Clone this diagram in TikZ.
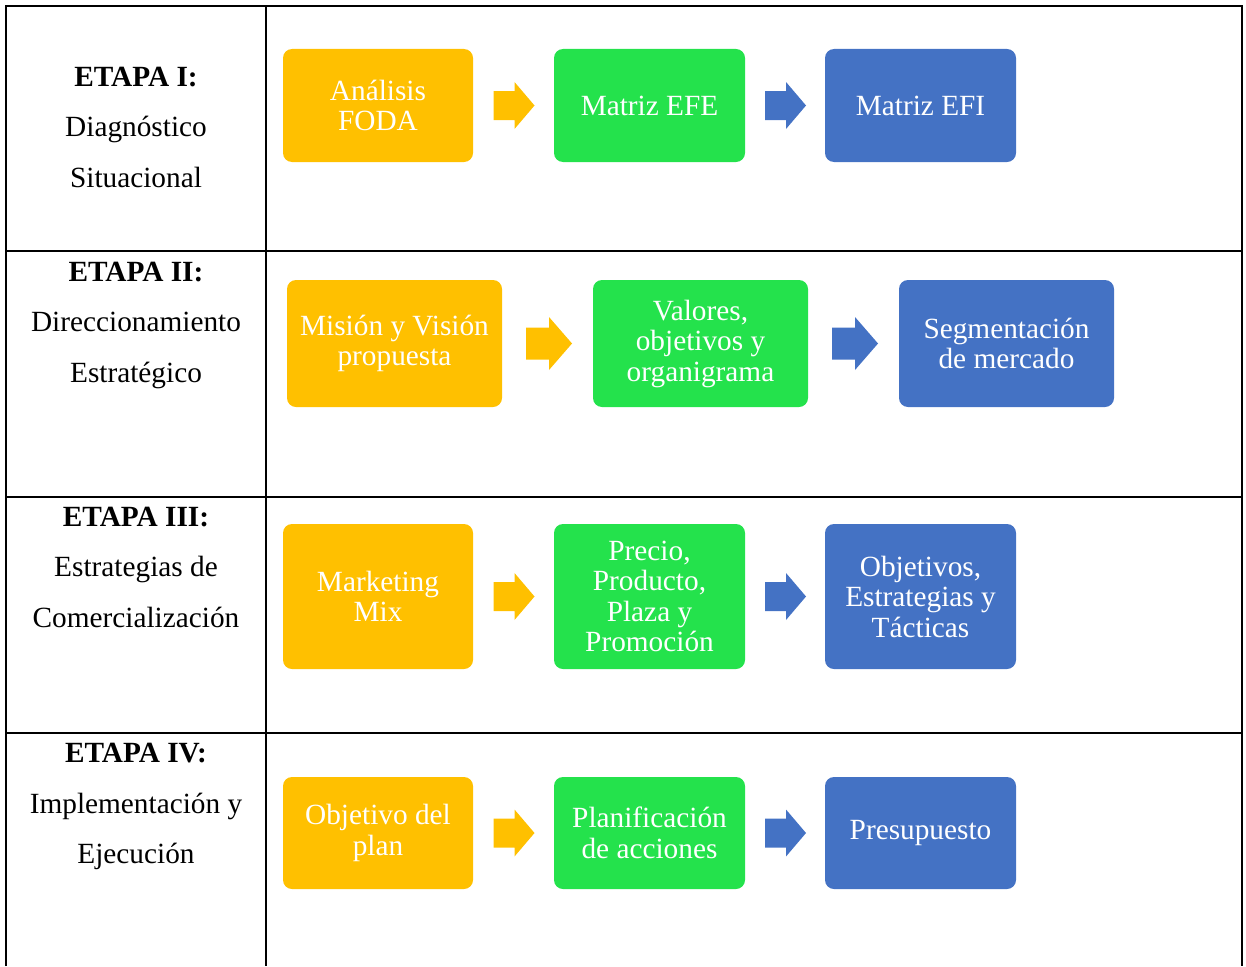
\documentclass[tikz,border=0pt]{standalone}
\usepackage{fontspec}
\setmainfont{Liberation Serif}
\usetikzlibrary{calc}
\definecolor{amber}{RGB}{255,192,0}
\definecolor{lime}{RGB}{36,226,76}
\definecolor{steel}{RGB}{68,114,196}
\tikzset{
  rule/.style={line width=2pt, draw=black},
  stage/.style={align=center, text=black, inner sep=0pt,
    font=\fontsize{29.3}{50.5}\selectfont},
  blk/.style={rounded corners=9pt, fill=#1, text=white, align=center, inner sep=0pt,
    font=\fontsize{29.3}{30.5}\selectfont},
}
% block arrow centred on a coordinate: body from -#3 to #4, tip at #5,
% body half-height #6, head half-height #7
\newcommand{\blockarrow}[7]{%
  \fill[#2, shift={(#1)}] (-#3,-#6) -- (#4,-#6) -- (#4,-#7) -- (#5,0)
    -- (#4,#7) -- (#4,#6) -- (-#3,#6) -- cycle;}
\begin{document}
\begin{tikzpicture}[x=1pt, y=-1pt]
\useasboundingbox (0,0) rectangle (1246,966);

% table frame
\draw[rule] (6,966) -- (6,6) -- (1242,6) -- (1242,966);
\draw[rule] (266,6) -- (266,966);
\draw[rule] (6,251) -- (1242,251);
\draw[rule] (6,497) -- (1242,497);
\draw[rule] (6,733) -- (1242,733);

% stage labels
\node[stage] (s1) at (136,127) {\textbf{ETAPA I:}\\Diagnóstico\\Situacional};
\node[stage] (s2) at (136,325) {\textbf{ETAPA II:}\\Direccionamiento\\Estratégico};
\node[stage] (s3) at (136,567) {\textbf{ETAPA III:}\\Estrategias de\\Comercialización};
\node[stage] (s4) at (136,806.5) {\textbf{ETAPA IV:}\\Implementación y\\Ejecución};

% stage I
\node[blk=amber, minimum width=190, minimum height=113] (a1) at (378,105.5) {Análisis\\FODA};
\node[blk=lime,  minimum width=191, minimum height=113] (b1) at (649.5,105.5) {Matriz EFE};
\node[blk=steel, minimum width=191, minimum height=113] (c1) at (920.5,105.5) {Matriz EFI};

% stage II
\node[blk=amber, minimum width=215, minimum height=127] (a2) at (394.5,343.5) {Misión y Visión\\propuesta};
\node[blk=lime,  minimum width=215, minimum height=127] (b2) at (700.5,343.5) {Valores,\\objetivos y\\organigrama};
\node[blk=steel, minimum width=215, minimum height=127] (c2) at (1006.5,343.5) {Segmentación\\de mercado};

% stage III
\node[blk=amber, minimum width=190, minimum height=145] (a3) at (378,596.5) {Marketing\\Mix};
\node[blk=lime,  minimum width=191, minimum height=145] (b3) at (649.5,596.5) {Precio,\\Producto,\\Plaza y\\Promoción};
\node[blk=steel, minimum width=191, minimum height=145] (c3) at (920.5,596.5) {Objetivos,\\Estrategias y\\Tácticas};

% stage IV
\node[blk=amber, minimum width=190, minimum height=112] (a4) at (378,833) {Objetivo del\\plan};
\node[blk=lime,  minimum width=191, minimum height=112] (b4) at (649.5,833) {Planificación\\de acciones};
\node[blk=steel, minimum width=191, minimum height=112] (c4) at (920.5,833) {Presupuesto};

% arrows between the blocks
\foreach \r in {1,3,4}{
  \coordinate (p\r) at ($(a\r.east)!0.5!(b\r.west)$);
  \coordinate (q\r) at ($(b\r.east)!0.5!(c\r.west)$);
  \blockarrow{p\r}{amber}{20}{1}{21}{14.5}{23.5}
  \blockarrow{q\r}{steel}{20}{1}{21}{14.5}{23.5}
}
\coordinate (p2) at ($(a2.east)!0.5!(b2.west)$);
\coordinate (q2) at ($(b2.east)!0.5!(c2.west)$);
\blockarrow{p2}{amber}{21.5}{1.5}{24.5}{16}{26.5}
\blockarrow{q2}{steel}{21.5}{1.5}{24.5}{16}{26.5}
\end{tikzpicture}
\end{document}
